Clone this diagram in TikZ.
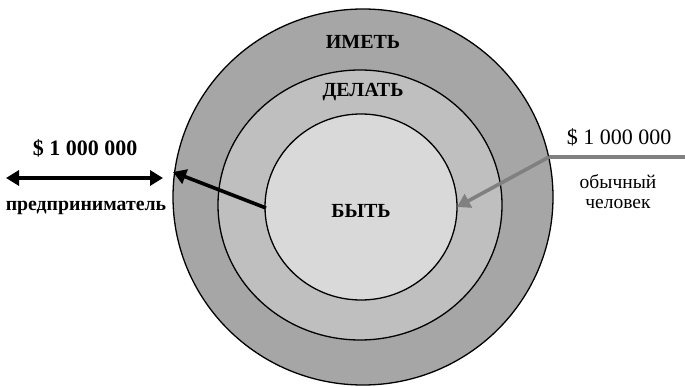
\documentclass[tikz,border=0pt]{standalone}
\usepackage{fontspec}
\setmainfont{Liberation Serif}
\usetikzlibrary{arrows.meta}
\definecolor{ringhave}{HTML}{A6A6A6}
\definecolor{ringdo}{HTML}{BFBFBF}
\definecolor{ringbe}{HTML}{D9D9D9}
\definecolor{pathgray}{HTML}{808080}
\tikzset{
  ring/.style={draw=black, line width=1.3pt},
  ringlabel/.style={font=\fontsize{20}{22}\selectfont\bfseries, inner sep=0pt},
  sidelabel/.style={inner sep=0pt},
  thickarrow/.style={line width=3.6pt, -{Triangle[length=13pt,width=15pt]}},
}
\begin{document}
\begin{tikzpicture}[x=1pt,y=-1pt]
  \useasboundingbox (0,0) rectangle (685,387);
  % concentric rings
  \fill[ringhave] (363,197) ellipse [x radius=190, y radius=188];
  \draw[ring] (363,197) ellipse [x radius=190, y radius=188];
  \fill[ringdo] (360,205) ellipse [x radius=142, y radius=135];
  \draw[ring] (360,205) ellipse [x radius=142, y radius=135];
  \fill[ringbe] (361,207) ellipse [x radius=96, y radius=93];
  \draw[ring] (361,207) ellipse [x radius=96, y radius=93];
  % ring names
  \node[ringlabel] (have) at (363,42) {ИМЕТЬ};
  \node[ringlabel] (do) at (363,92) {ДЕЛАТЬ};
  \node[ringlabel] (be) at (361,211) {БЫТЬ};
  % anchor points on the rings
  \coordinate (innerL) at (266,208);
  \coordinate (outerL) at (173,172);
  \coordinate (innerR) at (457,207);
  \coordinate (outerR) at (549,157);
  \coordinate (farR) at (685,157);
  \coordinate (leftA) at (6,178);
  \coordinate (leftB) at (163,178);
  % entrepreneur side
  \node[sidelabel, font=\fontsize{22}{24}\selectfont\bfseries] (moneyL) at (85,148) {\$ 1 000 000};
  \node[sidelabel, font=\fontsize{19.8}{21}\selectfont\bfseries] (entre) at (86,208) {предприниматель};
  \draw[line width=3.6pt, {Triangle[length=13pt,width=15pt]}-{Triangle[length=13pt,width=15pt]}] (leftA) -- (leftB);
  \draw[thickarrow, black] (innerL) -- (outerL);
  % ordinary person side
  \node[sidelabel, font=\fontsize{22}{24}\selectfont] (moneyR) at (619,137) {\$ 1 000 000};
  \node[sidelabel, font=\fontsize{19.5}{21}\selectfont] (ord1) at (618,182) {обычный};
  \node[sidelabel, font=\fontsize{19.5}{21}\selectfont] (ord2) at (618,204) {человек};
  \draw[line width=3.6pt, pathgray] (farR) -- (outerR);
  \draw[thickarrow, pathgray] (outerR) -- (innerR);
\end{tikzpicture}
\end{document}
